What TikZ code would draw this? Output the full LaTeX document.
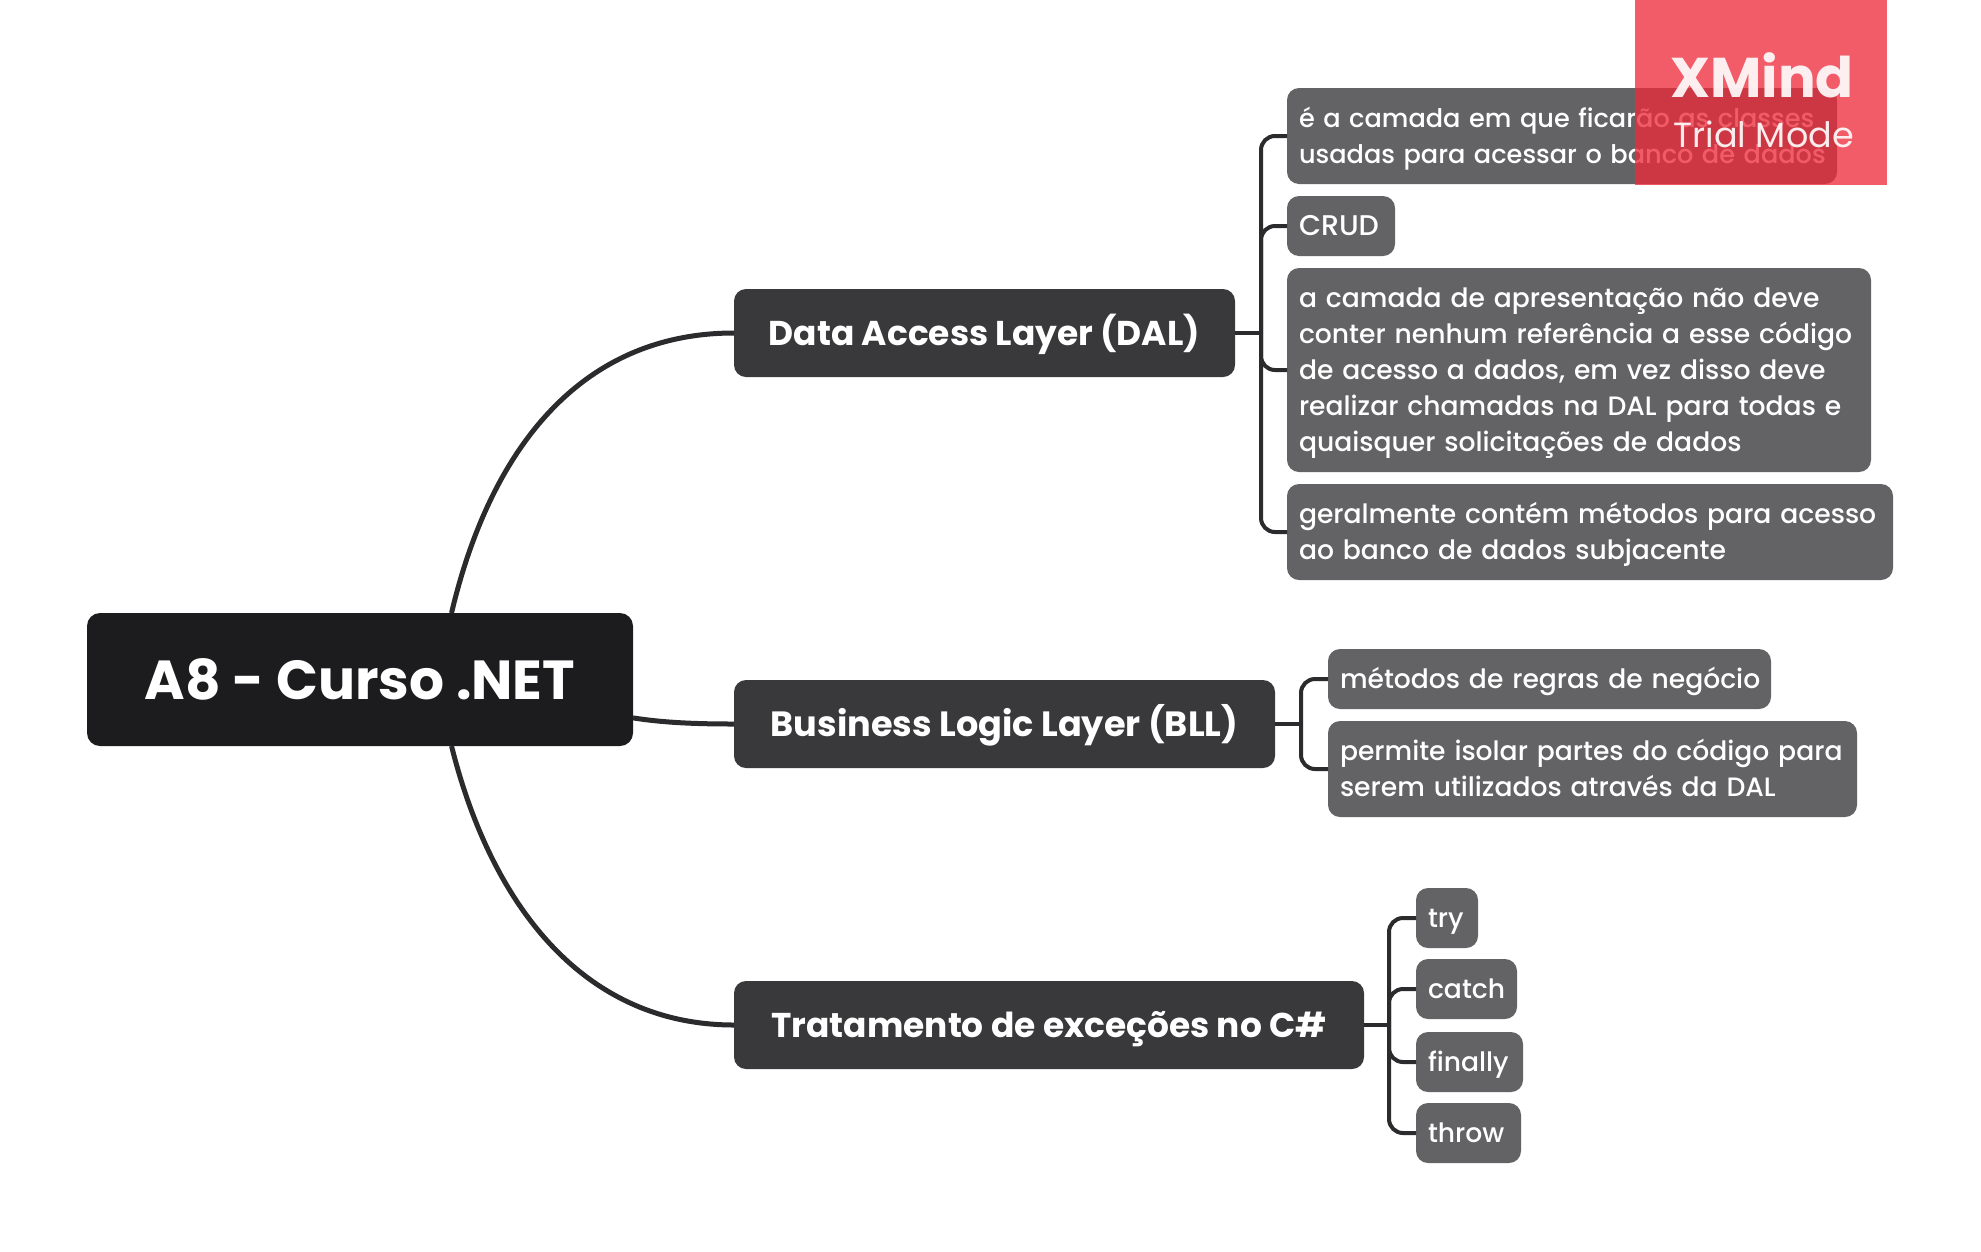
\documentclass[tikz,border=0pt]{standalone}
\usepackage{fontspec}
\setmainfont{Poppins}
\newfontfamily\medf{Poppins Medium}
\newcommand{\fstr}{\rule{0pt}{39.5pt}}
\newcommand{\lstr}{\rule[-20.5pt]{0pt}{0pt}}
\newcommand{\mstr}{\rule[-32pt]{0pt}{88pt}}
\begin{document}
\begin{tikzpicture}[x=1pt,y=-1pt,
  box/.style={rectangle,anchor=north west,rounded corners=12pt,text=white,inner xsep=0pt,inner ysep=0pt,outer sep=0pt},
  rootbox/.style={box,fill=rootc,rounded corners=13pt,font=\fontsize{55}{60}\selectfont\bfseries},
  midbox/.style={box,fill=midc,font=\fontsize{34.4}{40}\selectfont\bfseries},
  leaf/.style={box,fill=leafc,inner xsep=12pt,align=left,font=\fontsize{26.6}{36}\selectfont\medf},
  link/.style={draw=linec,line width=5pt},
  arm/.style={draw=linec,line width=4pt,rounded corners=14pt}]
\definecolor{rootc}{HTML}{1C1C1E}
\definecolor{midc}{HTML}{39393B}
\definecolor{leafc}{HTML}{636365}
\definecolor{linec}{HTML}{2B2B2D}
\definecolor{wmc}{HTML}{EE2A3A}
\useasboundingbox (0,0) rectangle (1981,1251);
% nodes
\node[rootbox,minimum width=546pt,minimum height=133pt] (root) at (87,613) {\rule[-47pt]{0pt}{133pt}A8 - Curso .NET};
\node[midbox,minimum width=501pt,minimum height=88pt] (dal) at (734,289) {\mstr Data Access Layer (DAL)};
\node[midbox,minimum width=541pt,minimum height=88pt,font=\fontsize{35.1}{40}\selectfont\bfseries] (bll) at (734,680) {\mstr Business Logic Layer (BLL)};
\node[midbox,minimum width=630pt,minimum height=88pt] (tra) at (734,981) {\mstr Tratamento de exceções no C\#};
\node[leaf,text width=526pt,minimum height=96pt,font=\fontsize{25.6}{36}\selectfont\medf] (l1) at (1287,88) {\fstr\mbox{é a camada em que ficarão as classes}\\\mbox{usadas para acessar o banco de dados}\lstr};
\node[leaf,text width=84pt,minimum height=60pt,font=\fontsize{28.5}{36}\selectfont\medf] (l2) at (1287,196) {\fstr CRUD\lstr};
\node[leaf,text width=560pt,minimum height=204pt] (l3) at (1287,268) {\fstr\mbox{a camada de apresentação não deve}\\\mbox{conter nenhum referência a esse código}\\\mbox{de acesso a dados, em vez disso deve}\\\mbox{realizar chamadas na DAL para todas e}\\\mbox{quaisquer solicitações de dados}\lstr};
\node[leaf,text width=582pt,minimum height=96pt] (l4) at (1287,484) {\fstr\mbox{geralmente contém métodos para acesso}\\\mbox{ao banco de dados subjacente}\lstr};
\node[leaf,text width=419pt,minimum height=60pt] (b1) at (1328,649) {\fstr\mbox{métodos de regras de negócio}\lstr};
\node[leaf,text width=505pt,minimum height=96pt] (b2) at (1328,721) {\fstr\mbox{permite isolar partes do código para}\\\mbox{serem utilizados através da DAL}\lstr};
\node[leaf,text width=38pt,minimum height=60pt] (t1) at (1416,888) {\fstr try\lstr};
\node[leaf,text width=77pt,minimum height=60pt] (t2) at (1416,959) {\fstr catch\lstr};
\node[leaf,text width=83pt,minimum height=60pt] (t3) at (1416,1032) {\fstr finally\lstr};
\node[leaf,text width=81pt,minimum height=60pt] (t4) at (1416,1103) {\fstr throw\lstr};
% main connectors
\draw[link] (root.36) .. controls (490,450) and (580,333) .. (dal.west);
\draw[link] (root.-8.1) .. controls (665,723) and (700,724) .. (bll.west);
\draw[link] (root.-36) .. controls (490,900) and (580,1025) .. (tra.west);
% bars
\coordinate (dbar) at (1261,333);
\coordinate (bbar) at (1301,724);
\coordinate (tbar) at (1389,1025);
\draw[arm] (dal.east) -- (dbar);
\draw[arm] (dbar) |- (l1.west);
\draw[arm] (dbar) |- (l2.west);
\draw[arm] (dbar) |- (l3.west);
\draw[arm] (dbar) |- (l4.west);
\draw[arm] (bll.east) -- (bbar);
\draw[arm] (bbar) |- (b1.west);
\draw[arm] (bbar) |- (b2.west);
\draw[arm] (tra.east) -- (tbar);
\draw[arm] (tbar) |- (t1.west);
\draw[arm] (tbar) |- (t2.west);
\draw[arm] (tbar) |- (t3.west);
\draw[arm] (tbar) |- (t4.west);
% watermark
\node[rectangle,anchor=north west,fill=wmc,fill opacity=.77,minimum width=252pt,minimum height=185pt,inner sep=0pt] (wm) at (1635,0) {};
\node[anchor=base east,text=white,text opacity=.9,inner sep=0pt,font=\fontsize{56}{60}\selectfont\bfseries] (wm1) at (1854,97) {XMind};
\node[anchor=base east,text=white,text opacity=.9,inner sep=0pt,font=\fontsize{35}{40}\selectfont] (wm2) at (1854,147) {Trial Mode};
\end{tikzpicture}
\end{document}
